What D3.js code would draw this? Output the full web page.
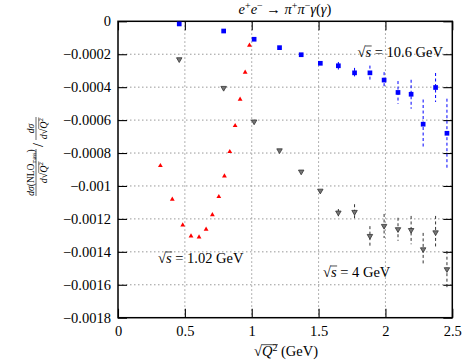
<!DOCTYPE html>
<html>
<head>
<meta charset="utf-8">
<script src="https://cdn.jsdelivr.net/npm/d3@7"></script>
<style>
  body { margin: 0; background: #fff; }
  svg { display: block; }
  text { font-family: "Liberation Serif", "DejaVu Serif", serif; }
</style>
</head>
<body>
<svg id="chart" width="463" height="361"></svg>
<script>
// sqrt(Q^2) bins for the 10.6 GeV and 4 GeV sets
const qHigh = [0.458, 0.79, 1.018, 1.208, 1.37, 1.513, 1.648, 1.769, 1.884, 1.99, 2.094, 2.192, 2.282, 2.375, 2.46];
// sqrt(s) = 10.6 GeV
const yBlue = [-0.000016, -0.000059, -0.000109, -0.00016, -0.000203, -0.000255, -0.00027, -0.000313, -0.000313, -0.000357, -0.000432, -0.000443, -0.000625, -0.000402, -0.00068];
const errBlue = [0, 0, 0, 0, 0, 0.000005, 0.000023, 0.00003, 0.000044, 0.000048, 0.000069, 0.000088, 0.00015, 0.000088, 0.00021];
// sqrt(s) = 4 GeV
const yGray = [-0.000231, -0.000405, -0.000609, -0.000784, -0.000913, -0.001029, -0.001162, -0.001158, -0.001304, -0.001243, -0.001263, -0.001268, -0.001385, -0.001282, -0.001506];
const errGray = [0, 0, 0, 0, 0, 0.000005, 0.000022, 0.000047, 0.00006, 0.000073, 0.00007, 0.000086, 0.0001, 0.0001, 0.00011];
// sqrt(s) = 1.02 GeV
const qLow = [0.317, 0.406, 0.484, 0.546, 0.606, 0.659, 0.706, 0.754, 0.796, 0.836, 0.876, 0.913, 0.951, 0.983];
const yRed = [-0.000877, -0.001081, -0.001237, -0.001304, -0.00131, -0.001263, -0.001175, -0.001065, -0.00094, -0.000792, -0.000634, -0.000474, -0.00031, -0.000146];

const xTicks = [0, 0.5, 1, 1.5, 2, 2.5];
const xTickLabels = ["0", "0.5", "1", "1.5", "2", "2.5"];
const yTicks = [0, -0.0002, -0.0004, -0.0006, -0.0008, -0.001, -0.0012, -0.0014, -0.0016, -0.0018];
const yTickLabels = ["0", "\u22120.0002", "\u22120.0004", "\u22120.0006", "\u22120.0008", "\u22120.001", "\u22120.0012", "\u22120.0014", "\u22120.0016", "\u22120.0018"];

const svg = d3.select("#chart");
const L = 118, R = 452.3, T = 21.3, B = 317.7;
const FS = 14.5;

const x = d3.scaleLinear().domain([0, 2.5]).range([L, R]);
const y = d3.scaleLinear().domain([-0.0018, 0]).range([B, T]);

// grid
svg.append("g").selectAll("line").data(xTicks.slice(1, -1)).join("line")
  .attr("x1", d => x(d)).attr("x2", d => x(d)).attr("y1", T).attr("y2", B)
  .attr("stroke", "#999").attr("stroke-dasharray", "1.5,2.5");
svg.append("g").selectAll("line").data(yTicks.slice(1, -1)).join("line")
  .attr("x1", L).attr("x2", R).attr("y1", d => y(d)).attr("y2", d => y(d))
  .attr("stroke", "#999").attr("stroke-dasharray", "1.5,2.5");

// axes, ticks inside on all four sides
function styleAxis(g) {
  g.attr("font-family", null).attr("font-size", FS);
  g.selectAll(".domain").remove();
  g.selectAll(".tick line").attr("stroke", "#000").attr("stroke-width", 1.1);
  g.selectAll(".tick text").attr("fill", "#000");
}
svg.append("g").attr("transform", `translate(0,${B})`)
  .call(d3.axisBottom(x).tickValues(xTicks).tickFormat((d, i) => xTickLabels[i]).tickSizeInner(-9).tickSizeOuter(0).tickPadding(8))
  .call(styleAxis);
svg.append("g").attr("transform", `translate(0,${T})`)
  .call(d3.axisTop(x).tickValues(xTicks).tickFormat("").tickSizeInner(-9).tickSizeOuter(0))
  .call(styleAxis);
svg.append("g").attr("transform", `translate(${L},0)`)
  .call(d3.axisLeft(y).tickValues(yTicks).tickFormat((d, i) => yTickLabels[i]).tickSizeInner(-9).tickSizeOuter(0).tickPadding(7))
  .call(styleAxis);
svg.append("g").attr("transform", `translate(${R},0)`)
  .call(d3.axisRight(y).tickValues(yTicks).tickFormat("").tickSizeInner(-9).tickSizeOuter(0))
  .call(styleAxis);

svg.append("rect").attr("x", L).attr("y", T).attr("width", R - L).attr("height", B - T)
  .attr("fill", "none").attr("stroke", "#000").attr("stroke-width", 1.5);

// error bars
const hi = qHigh.map((q, i) => ({ q, b: yBlue[i], eb: errBlue[i], g: yGray[i], eg: errGray[i] }));
svg.append("g").selectAll("line").data(hi.filter(d => d.eb > 0)).join("line")
  .attr("x1", d => x(d.q)).attr("x2", d => x(d.q))
  .attr("y1", d => y(d.b + d.eb)).attr("y2", d => y(d.b - d.eb))
  .attr("stroke", "#0000ff").attr("stroke-width", 1).attr("stroke-dasharray", "3,2.5");
svg.append("g").selectAll("line").data(hi.filter(d => d.eg > 0)).join("line")
  .attr("x1", d => x(d.q)).attr("x2", d => x(d.q))
  .attr("y1", d => y(d.g + d.eg)).attr("y2", d => y(d.g - d.eg))
  .attr("stroke", "#333").attr("stroke-width", 1).attr("stroke-dasharray", "3,2.5");

// markers
svg.append("g").selectAll("path").data(hi).join("path")
  .attr("transform", d => `translate(${x(d.q)},${y(d.b)})`)
  .attr("d", d3.symbol(d3.symbolSquare, 22))
  .attr("fill", "#0000ff");
svg.append("g").selectAll("path").data(hi).join("path")
  .attr("transform", d => `translate(${x(d.q)},${y(d.g)}) rotate(180)`)
  .attr("d", d3.symbol(d3.symbolTriangle, 13))
  .attr("fill", "#777").attr("stroke", "#333").attr("stroke-width", 0.8);
svg.append("g").selectAll("path").data(qLow.map((q, i) => ({ q, v: yRed[i] }))).join("path")
  .attr("transform", d => `translate(${x(d.q)},${y(d.v)})`)
  .attr("d", d3.symbol(d3.symbolTriangle, 10))
  .attr("fill", "#ff0000");

// radical bar over characters i0..i1 of a text element
function radical(t, i0, i1, lift, w) {
  const n = t.node();
  const a = n.getStartPositionOfChar(i0), b = n.getEndPositionOfChar(i1);
  d3.select(n.parentNode).append("line")
    .attr("x1", a.x - 0.3).attr("x2", b.x + 0.5).attr("y1", a.y - lift).attr("y2", a.y - lift)
    .attr("stroke", "#000").attr("stroke-width", w || 0.7);
}

// annotations: sqrt(s) = ...
function sqrtS(px, py, value, anchor) {
  const t = svg.append("text").attr("x", px).attr("y", py).attr("font-size", FS).attr("text-anchor", anchor);
  t.append("tspan").text("\u221A");
  t.append("tspan").attr("font-style", "italic").text("s");
  t.append("tspan").text(" = " + value + " GeV");
  radical(t, 1, 1, FS * 0.76);
}
sqrtS(443, 57, "10.6", "end");
sqrtS(158, 263, "1.02", "start");
sqrtS(323, 277, "4", "start");

// title
const title = svg.append("text").attr("x", 285).attr("y", 14).attr("font-size", FS).attr("text-anchor", "middle");
[["e", 1, 0], ["+", 0, -5], ["e", 1, 5], ["\u2212", 0, -5], [" \u2192 ", 0, 5], ["\u03C0", 1, 0], ["+", 0, -5], ["\u03C0", 1, 5], ["\u2212", 0, -5], ["\u03B3", 1, 5], ["(", 0, 0], ["\u03B3", 1, 0], [")", 0, 0]]
  .forEach(([s, it, dy]) => {
    const sp = title.append("tspan").text(s).attr("dy", dy);
    if (it) sp.attr("font-style", "italic");
    if (dy < 0) sp.attr("font-size", 10);
  });

// x label
const xl = svg.append("text").attr("x", 286).attr("y", 356).attr("font-size", FS).attr("text-anchor", "middle");
xl.append("tspan").text("\u221A");
xl.append("tspan").attr("font-style", "italic").text("Q");
xl.append("tspan").attr("font-size", 10).attr("dy", -5).text("2");
xl.append("tspan").attr("dy", 5).text(" (GeV)");
radical(xl, 1, 2, FS * 0.78);

// y label: [dσ(NLO_mass)/d√Q²] / [dσ/d√Q²]
const yl = svg.append("g").attr("transform", "translate(36,196) rotate(-90)");
function frac(g, u0, u1, numParts) {
  const uc = (u0 + u1) / 2;
  g.append("line").attr("x1", u0).attr("x2", u1).attr("y1", 0).attr("y2", 0).attr("stroke", "#000").attr("stroke-width", 0.6);
  const num = g.append("text").attr("x", uc).attr("y", -2).attr("font-size", 9.5).attr("text-anchor", "middle").attr("font-style", "italic");
  numParts.forEach(([s, sz, dy, it]) => {
    const sp = num.append("tspan").text(s);
    if (sz) sp.attr("font-size", sz);
    if (dy) sp.attr("dy", dy);
    if (!it) sp.attr("font-style", "normal");
  });
  const den = g.append("text").attr("x", uc).attr("y", 10.5).attr("font-size", 10).attr("text-anchor", "middle");
  den.append("tspan").attr("font-style", "italic").text("d");
  den.append("tspan").text("\u221A");
  den.append("tspan").attr("font-style", "italic").text("Q");
  den.append("tspan").attr("font-size", 7).attr("dy", -3.5).text("2");
  radical(den, 2, 3, 7.8, 0.5);
}
frac(yl, 0, 47, [["d", 0, 0, 1], ["\u03C3", 0, 0, 1], ["(NLO", 0, 0, 0], ["mass", 5.5, 2, 0], [")", 9.5, -2, 0]]);
yl.append("text").attr("x", 51).attr("y", 7).attr("font-size", 14).attr("text-anchor", "middle").text("/");
frac(yl, 56, 79, [["d", 0, 0, 1], ["\u03C3", 0, 0, 1]]);
</script>
</body>
</html>
